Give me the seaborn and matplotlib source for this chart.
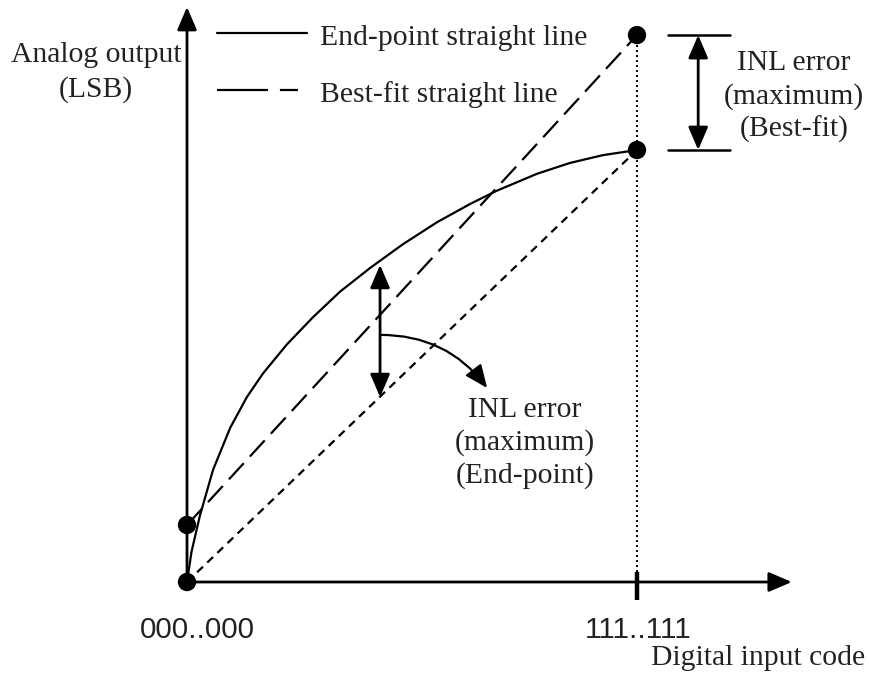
import matplotlib
matplotlib.use("Agg")
import matplotlib.pyplot as plt
import seaborn as sns
import pandas as pd

# Normalised digital input code (0 = 000..000, 1 = 111..111) and DAC output
curve_code = [0.0, 0.010, 0.029, 0.058, 0.096, 0.133, 0.169, 0.222, 0.280,
              0.340, 0.407, 0.480, 0.556, 0.629, 0.689, 0.778, 0.851, 0.924, 1.0]
curve_out = [0.0, 0.070, 0.155, 0.260, 0.357, 0.428, 0.483, 0.550, 0.613,
             0.672, 0.727, 0.782, 0.833, 0.875, 0.906, 0.945, 0.970, 0.988, 1.0]

endpoint_code = [0.0, 1.0]
endpoint_out = [0.0, 1.0]

bestfit_code = [0.0, 1.0]
bestfit_out = [0.132, 1.266]

dot_code = [0.0, 0.0, 1.0, 1.0]
dot_out = [0.0, 0.132, 1.0, 1.266]

tick_labels = ["000..000", "111..111"]
legend_labels = ["End-point straight line", "Best-fit straight line"]
inl_best = ["INL error", "(maximum)", "(Best-fit)"]
inl_end = ["INL error", "(maximum)", "(End-point)"]

# column where the end-point INL error is measured
inl_code = 0.429

sns.set_theme(style="white")
plt.rcParams["lines.scale_dashes"] = False
plt.rcParams["lines.solid_joinstyle"] = "round"
serif = ["Liberation Serif", "DejaVu Serif"]
sans = ["Liberation Sans", "DejaVu Sans"]
fs = 21.3
ink = "#222222"

fig = plt.figure(figsize=(8.69, 6.84), dpi=100)
ax = fig.add_axes([0, 0, 1, 1])
ax.set_xlim(-0.4156, 1.5156)
ax.set_ylim(-0.2361, 1.3472)
ax.axis("off")

curve = pd.DataFrame({"code": curve_code, "out": curve_out})
sns.lineplot(data=curve, x="code", y="out", ax=ax, color="black",
             linewidth=1.6, estimator=None, sort=False)
sns.lineplot(x=endpoint_code, y=endpoint_out, ax=ax, color="black",
             linewidth=1.6, linestyle=(0, (5.8, 4.3)), estimator=None, sort=False)
sns.lineplot(x=bestfit_code, y=bestfit_out, ax=ax, color="black",
             linewidth=1.6, linestyle=(0, (15.8, 6.5)), estimator=None, sort=False)

# full-scale marker column
sns.lineplot(x=[1.0, 1.0], y=[0.0, bestfit_out[1]], ax=ax, color="black",
             linewidth=1.5, linestyle=(0, (1.4, 2.2)), estimator=None, sort=False)

sns.scatterplot(x=dot_code, y=dot_out, ax=ax, color="black", s=175,
                edgecolor="none", zorder=5, clip_on=False)

# axes with arrow heads
arrow_axis = dict(arrowstyle="-|>,head_length=0.7,head_width=0.3",
                  mutation_scale=20, color="black", lw=2.0,
                  shrinkA=0, shrinkB=0)
ax.annotate("", xy=(1.344, 0.0), xytext=(0.0, 0.0), arrowprops=arrow_axis)
ax.annotate("", xy=(0.0, 1.331), xytext=(0.0, 0.0), arrowprops=arrow_axis)

# tick at full scale
ax.plot([1.0, 1.0], [-0.042, 0.023], color="black", lw=3.2,
        solid_capstyle="butt")

ax.text(0.022, -0.1296, tick_labels[0], ha="center", va="baseline",
        family=sans, fontsize=fs, color=ink)
ax.text(1.002, -0.1296, tick_labels[1], ha="center", va="baseline",
        family=sans, fontsize=fs, color=ink)
ax.text(1.507, -0.192, "Digital input code", ha="right", va="baseline",
        family=serif, fontsize=fs, color=ink)
ax.text(-0.2022, 1.2037, "Analog output", ha="center", va="baseline",
        family=serif, fontsize=fs, color=ink)
ax.text(-0.2022, 1.1227, "(LSB)", ha="center", va="baseline",
        family=serif, fontsize=fs, color=ink)

# legend keys
ax.plot([0.0667, 0.2667], [1.2708, 1.2708], color="black", lw=1.6)
ax.plot([0.0667, 0.2467], [1.139, 1.139], color="black", lw=1.6,
        linestyle=(0, (36.7, 8.6, 13.0, 100.0)))
ax.text(0.2956, 1.243, legend_labels[0], ha="left", va="baseline",
        family=serif, fontsize=fs, color=ink)
ax.text(0.2956, 1.111, legend_labels[1], ha="left", va="baseline",
        family=serif, fontsize=fs, color=ink)

double = dict(arrowstyle="<|-|>,head_length=0.7,head_width=0.3",
              mutation_scale=20, color="black", lw=2.0,
              shrinkA=0, shrinkB=0)

# best-fit INL error span
ax.annotate("", xy=(1.136, bestfit_out[1]), xytext=(1.136, curve_out[-1]),
            arrowprops=double)
for yv in (curve_out[-1], bestfit_out[1]):
    ax.plot([1.069, 1.207], [yv, yv], color="black", lw=1.8)
for i, line in enumerate(inl_best):
    ax.text(1.349, 1.185 - i * 0.0775, line, ha="center", va="baseline",
            family=serif, fontsize=fs, color=ink)

# end-point INL error span
ax.annotate("", xy=(inl_code, 0.734), xytext=(inl_code, 0.428),
            arrowprops=double)
ax.annotate("", xy=(0.667, 0.449), xytext=(inl_code, 0.572),
            arrowprops=dict(arrowstyle="-|>,head_length=0.7,head_width=0.3",
                            mutation_scale=20, color="black", lw=1.6,
                            shrinkA=0, shrinkB=0,
                            connectionstyle="arc3,rad=-0.25"))
for i, line in enumerate(inl_end):
    ax.text(0.751, 0.382 - i * 0.0755, line, ha="center", va="baseline",
            family=serif, fontsize=fs, color=ink)

fig.savefig("out.png", dpi=100)
